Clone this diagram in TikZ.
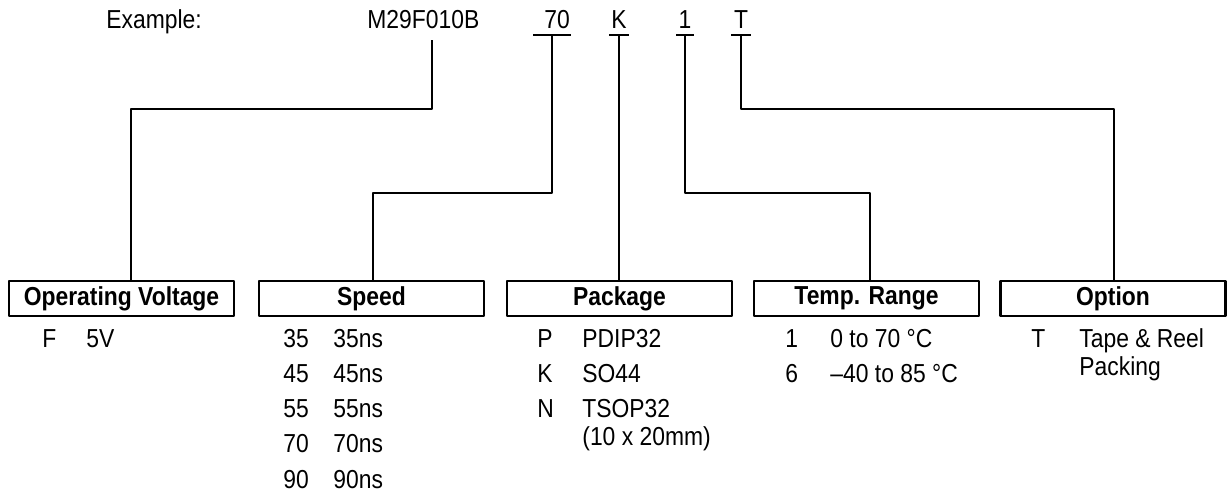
\documentclass[tikz,border=0pt]{standalone}
\usepackage{fontspec}
\setmainfont[FakeStretch=0.88]{Liberation Sans}
\begin{document}
\begin{tikzpicture}[x=0.5pt,y=-0.5pt,line join=round,
        txt/.style={inner sep=0pt,anchor=base west,font=\fontsize{13}{14}\selectfont},
        code/.style={txt,anchor=base},
        hdr/.style={draw,line width=1.25pt,minimum width=112.5pt,minimum height=17.5pt,
            inner sep=0pt,font=\fontsize{13}{14}\selectfont\bfseries},
        wire/.style={line width=0.75pt}]
    \def\ya{347} \def\dy{35.3} \def\yb{298.5} \def\yl{28}
    \useasboundingbox (0,0) rectangle (1227,494);
    \node[txt] (ex) at (106,28) {Example:};
    \node[txt] (dev) at (367,28) {M29F010B};
    \node[code] (cspd) at (557,28) {70};
    \node[code] (cpkg) at (619,28) {K};
    \node[code] (ctmp) at (685,28) {1};
    \node[code] (copt) at (741,28) {T};
    \coordinate (tdev) at (432,40);
    \coordinate (bspd) at (552,35);
    \coordinate (bpkg) at (619,35);
    \coordinate (btmp) at (685,35);
    \coordinate (bopt) at (741,35);
    \draw[wire] ([xshift=-9.5pt]bspd) -- ([xshift=9.5pt]bspd);
    \draw[wire] ([xshift=-5pt]bpkg) -- ([xshift=5pt]bpkg);
    \draw[wire] ([xshift=-4.5pt]btmp) -- ([xshift=4.5pt]btmp);
    \draw[wire] ([xshift=-5pt]bopt) -- ([xshift=5pt]bopt);
    \node[hdr] (hvolt) at (121.5,\yb) {Operating Voltage};
    \node[hdr] (hspd) at (371.5,\yb) {Speed};
    \node[hdr] (hpkg) at (619.5,\yb) {Package};
    \node[hdr] (htmp) at (866.5,\yb) {Temp. Range};
    \node[hdr] (hopt) at (1113,\yb) {Option};
    \coordinate (jvolt) at (131,109);
    \coordinate (jspd) at (373,193);
    \coordinate (jtmp) at (870,193);
    \coordinate (jopt) at (1114,109);
    \draw[wire] (tdev) |- (jvolt) -- (jvolt |- hvolt.north);
    \draw[wire] (bspd) |- (jspd) -- (jspd |- hspd.north);
    \draw[wire] (bpkg) -- (bpkg |- hpkg.north);
    \draw[wire] (btmp) |- (jtmp) -- (jtmp |- htmp.north);
    \draw[wire] (bopt) |- (jopt) -- (jopt |- hopt.north);
    \node[txt] (vF) at (42,\ya) {F};
    \node[txt] (v5) at (86,\ya) {5V};
    \foreach \v [count=\i from 0] in {35,45,55,70,90} {
        \node[txt] (s\v) at (283,{\ya+\i*\dy}) {\v};
        \node[txt] (t\v) at (333,{\ya+\i*\dy}) {\v ns};
    }
    \node[txt] (pP) at (537,\ya) {P};
    \node[txt] (qP) at (582,\ya) {PDIP32};
    \node[txt] (pK) at (537,{\ya+\dy}) {K};
    \node[txt] (qK) at (582,{\ya+\dy}) {SO44};
    \node[txt] (pN) at (537,{\ya+2*\dy}) {N};
    \node[txt] (qN) at (582,{\ya+2*\dy}) {TSOP32};
    \node[txt] (rN) at (582,{\ya+2*\dy+28}) {(10 x 20mm)};
    \node[txt] (r1) at (785,\ya) {1};
    \node[txt] (u1) at (830,\ya) {0 to 70 °C};
    \node[txt] (r6) at (785,{\ya+\dy}) {6};
    \node[txt] (u6) at (830,{\ya+\dy}) {--40 to 85 °C};
    \node[txt] (oT) at (1031,\ya) {T};
    \node[txt] (wT) at (1079,\ya) {Tape \& Reel};
    \node[txt] (wP) at (1079,{\ya+28}) {Packing};
\end{tikzpicture}
\end{document}
